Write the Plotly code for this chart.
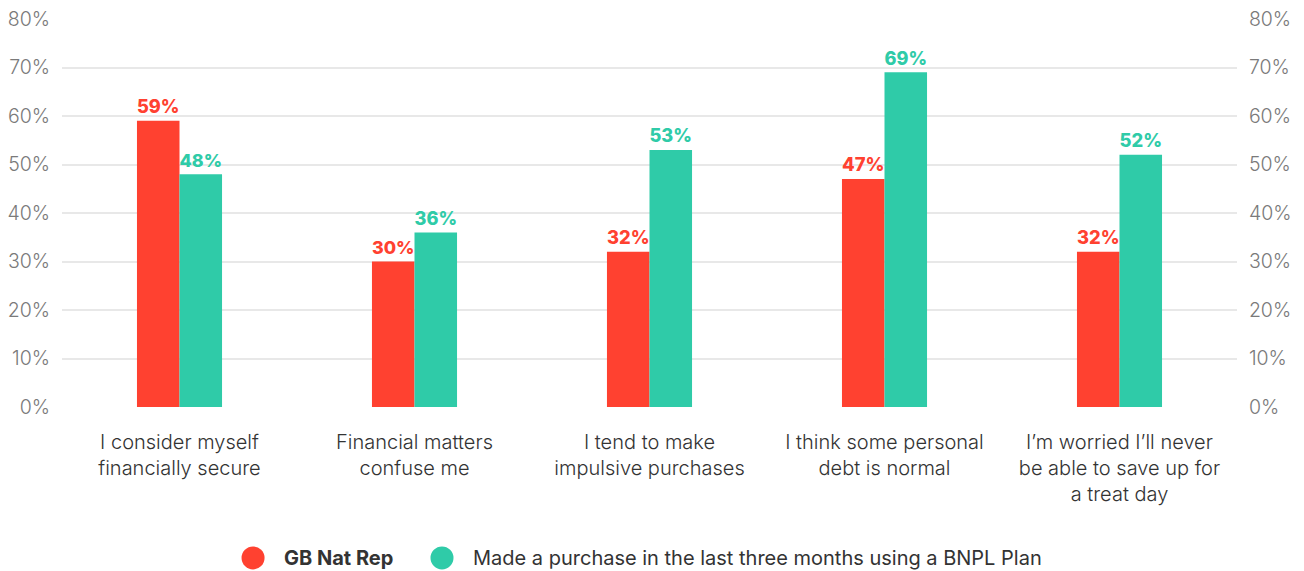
import plotly.graph_objects as go

categories = [
    "I consider myself<br>financially secure",
    "Financial matters<br>confuse me",
    "I tend to make<br>impulsive purchases",
    "I think some personal<br>debt is normal",
    "I’m worried I’ll never<br>be able to save up for<br>a treat day",
]
gb_nat_rep = [59, 30, 32, 47, 32]
bnpl_users = [48, 36, 53, 69, 52]
series_names = ["<b>GB Nat Rep</b>", "Made a purchase in the last three months using a BNPL Plan"]
y_ticks = [0, 10, 20, 30, 40, 50, 60, 70, 80]
y_tick_labels = [f"{v}%" for v in y_ticks]

RED = "#FF4130"
TEAL = "#2FCBA8"
FONT = "Inter, Roboto, sans-serif"

fig = go.Figure()
for vals, color in [(gb_nat_rep, RED), (bnpl_users, TEAL)]:
    fig.add_trace(go.Bar(
        x=categories, y=vals, marker=dict(color=color, line=dict(width=0)),
        text=[f"{v}%" for v in vals], textposition="outside",
        textfont=dict(color=color, size=20, family=FONT, weight=800),
        cliponaxis=False, showlegend=False, hoverinfo="skip",
    ))

# mirror axis on the right
fig.add_trace(go.Scatter(x=categories, y=gb_nat_rep, yaxis="y2", mode="markers",
                         marker=dict(opacity=0), showlegend=False, hoverinfo="skip"))

# legend: large circle swatches with labels underneath the chart
legend_y = -0.389
legend_items = [(series_names[0], RED, 0.1626, 0.1872),
                (series_names[1], TEAL, 0.3234, 0.3481)]
shapes, annotations = [], []
for name, color, cx, tx in legend_items:
    shapes.append(dict(
        type="circle", xref="paper", yref="paper",
        xsizemode="pixel", ysizemode="pixel",
        xanchor=cx, yanchor=legend_y,
        x0=-11.5, x1=11.5, y0=-11.5, y1=11.5,
        fillcolor=color, line=dict(width=0),
    ))
    annotations.append(dict(
        text=name, xref="paper", yref="paper", x=tx, y=legend_y,
        xanchor="left", yanchor="middle", showarrow=False,
        font=dict(size=20, color="#333333", family=FONT),
    ))

yaxis_common = dict(
    range=[0, 80], tickvals=y_ticks, ticktext=y_tick_labels,
    tickfont=dict(size=19.5, color="#7a7a7a", family=FONT, weight=300),
    showline=False, zeroline=False, fixedrange=True, automargin=False,
    ticks="outside", ticklen=7, tickcolor="rgba(0,0,0,0)",
)

fig.update_layout(
    width=1304, height=571,
    margin=dict(l=62, r=67, t=19, b=164, autoexpand=False),
    paper_bgcolor="white", plot_bgcolor="white",
    barmode="group", bargap=0.638, bargroupgap=0,
    xaxis=dict(
        tickfont=dict(size=20, color="#333333", family=FONT, weight=300),
        showgrid=False, showline=False, zeroline=False, automargin=False,
        ticks="outside", ticklen=17, tickcolor="rgba(0,0,0,0)",
    ),
    yaxis=dict(**yaxis_common, showgrid=True, gridcolor="#e8e8e8", gridwidth=1.5),
    yaxis2=dict(**yaxis_common, overlaying="y", side="right", showgrid=False),
    shapes=shapes, annotations=annotations,
    showlegend=False,
)

fig.write_html("out.html")
